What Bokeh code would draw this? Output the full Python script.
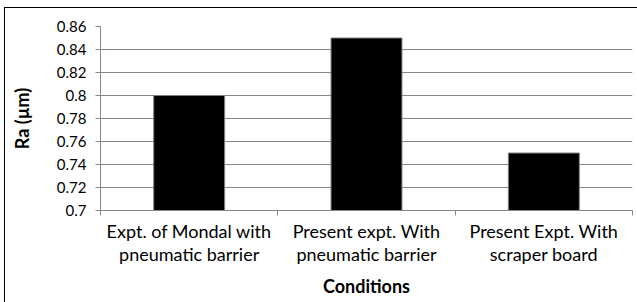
from bokeh.plotting import figure
from bokeh.models import FixedTicker, Range1d, InlineStyleSheet
from bokeh.embed import file_html
from bokeh.resources import INLINE

categories = ["Expt. of Mondal with\npneumatic barrier",
              "Present expt. With\npneumatic barrier",
              "Present Expt. With\nscraper board"]
ra_values = [0.80, 0.85, 0.75]
y_ticks = [0.70, 0.72, 0.74, 0.76, 0.78, 0.80, 0.82, 0.84, 0.86]
y_tick_labels = ["0.7", "0.72", "0.74", "0.76", "0.78", "0.8", "0.82", "0.84", "0.86"]
x_title = "Conditions"
y_title = "Ra (µm)"

FONT = "Lato"
GRID = "#878787"

n = len(categories)
centers = [i + 0.5 for i in range(n)]
bounds = [float(i) for i in range(n + 1)]

p = figure(width=637, height=302, output_backend="svg", toolbar_location=None,
           x_range=Range1d(0, n), y_range=Range1d(y_ticks[0], y_ticks[-1]),
           min_border_left=100, min_border_right=5, min_border_top=26, min_border_bottom=92)
p.outline_line_color = None
p.background_fill_color = "white"
p.border_fill_color = "white"
p.stylesheets = [InlineStyleSheet(css=(
    ":host::after { content: ''; position: absolute; left: 4px; top: 7px; "
    "right: 0px; bottom: 0px; border-left: 1px solid #000; border-top: 1px solid #000; "
    "pointer-events: none; z-index: 10; }"))]

p.vbar(x=centers, top=ra_values, bottom=y_ticks[0], width=0.4,
       fill_color="black", line_color="#7f7f7f", line_width=1)

# y axis
p.yaxis.ticker = FixedTicker(ticks=y_ticks)
p.yaxis.major_label_overrides = {t: l for t, l in zip(y_ticks, y_tick_labels)}
p.yaxis.axis_line_color = GRID
p.yaxis.major_tick_line_color = GRID
p.yaxis.major_tick_in = 0
p.yaxis.major_tick_out = 5
p.yaxis.minor_tick_line_color = None
p.yaxis.major_label_standoff = 9
p.yaxis.major_label_text_font = FONT
p.yaxis.major_label_text_font_size = "15px"
p.yaxis.major_label_text_color = "black"
p.yaxis.axis_label = y_title
p.yaxis.axis_label_text_font = FONT
p.yaxis.axis_label_text_font_size = "18px"
p.yaxis.axis_label_text_font_style = "bold"
p.yaxis.axis_label_text_color = "black"
p.yaxis.axis_label_standoff = 21

# x axis
p.xaxis.ticker = FixedTicker(ticks=centers, minor_ticks=bounds)
p.xaxis.major_label_overrides = {c: lab for c, lab in zip(centers, categories)}
p.xaxis.axis_line_color = GRID
p.xaxis.major_tick_line_color = None
p.xaxis.minor_tick_line_color = GRID
p.xaxis.minor_tick_in = 0
p.xaxis.minor_tick_out = 5
p.xaxis.major_label_standoff = 3
p.xaxis.major_label_text_font = FONT
p.xaxis.major_label_text_font_size = "18px"
p.xaxis.major_label_text_color = "black"
p.xaxis.major_label_text_line_height = 1.05
p.xaxis.axis_label = x_title
p.xaxis.axis_label_text_font = FONT
p.xaxis.axis_label_text_font_size = "18px"
p.xaxis.axis_label_text_font_style = "bold"
p.xaxis.axis_label_text_color = "black"
p.xaxis.axis_label_standoff = 7

p.xgrid.grid_line_color = None
p.ygrid.ticker = FixedTicker(ticks=y_ticks)
p.ygrid.grid_line_color = GRID
p.ygrid.grid_line_width = 1

open("out.html", "w").write(file_html(p, INLINE))
